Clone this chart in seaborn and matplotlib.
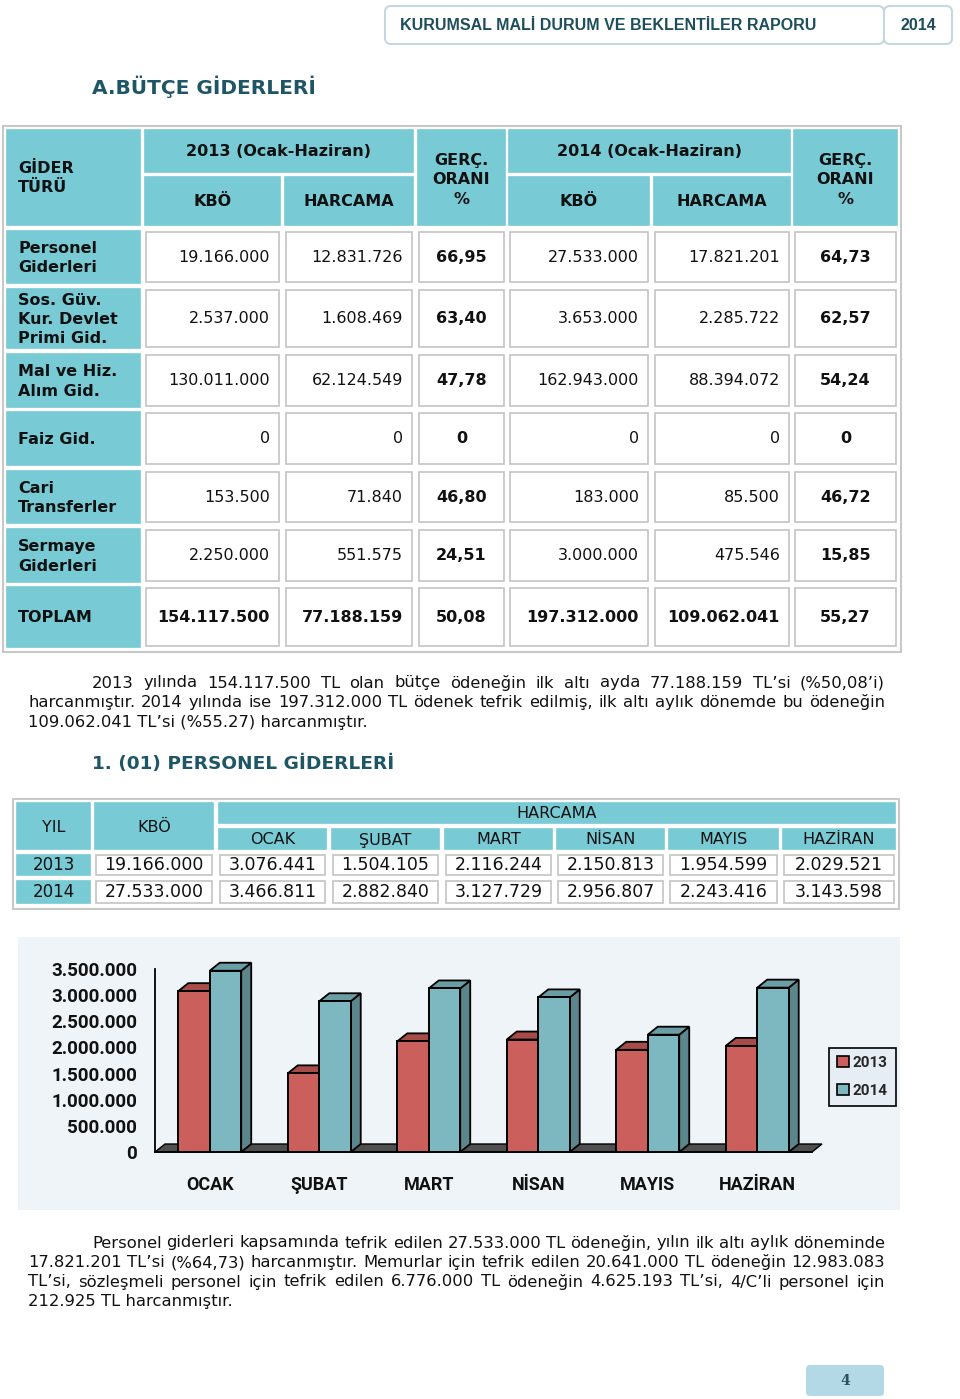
import numpy as np
import pandas as pd
import matplotlib
matplotlib.use('Agg')
import matplotlib.pyplot as plt
from matplotlib.patches import Rectangle, FancyBboxPatch, Polygon
import seaborn as sns

# --- Tablo 1: bütçe giderleri (Ocak-Haziran) ---
gider_turu = ["Personel\nGiderleri", "Sos. Güv.\nKur. Devlet\nPrimi Gid.", "Mal ve Hiz.\nAlım Gid.",
              "Faiz Gid.", "Cari\nTransferler", "Sermaye\nGiderleri", "TOPLAM"]
kbo_2013 = [19166000, 2537000, 130011000, 0, 153500, 2250000, 154117500]
harcama_2013 = [12831726, 1608469, 62124549, 0, 71840, 551575, 77188159]
oran_2013 = [66.95, 63.40, 47.78, 0, 46.80, 24.51, 50.08]
kbo_2014 = [27533000, 3653000, 162943000, 0, 183000, 3000000, 197312000]
harcama_2014 = [17821201, 2285722, 88394072, 0, 85500, 475546, 109062041]
oran_2014 = [64.73, 62.57, 54.24, 0, 46.72, 15.85, 55.27]

# --- Tablo 2 ve grafik: personel giderleri aylık harcama ---
aylar = ["OCAK", "ŞUBAT", "MART", "NİSAN", "MAYIS", "HAZİRAN"]
yillar = ["2013", "2014"]
kbo_personel = [19166000, 27533000]
aylik_2013 = [3076441, 1504105, 2116244, 2150813, 1954599, 2029521]
aylik_2014 = [3466811, 2882840, 3127729, 2956807, 2243416, 3143598]
y_ticks = [0, 500000, 1000000, 1500000, 2000000, 2500000, 3000000, 3500000]

paragraf_1 = [
    "2013 yılında 154.117.500 TL olan bütçe ödeneğin ilk altı ayda 77.188.159 TL’si (%50,08’i)",
    "harcanmıştır. 2014 yılında ise 197.312.000 TL ödenek tefrik edilmiş, ilk altı aylık dönemde bu ödeneğin",
    "109.062.041 TL’si (%55.27) harcanmıştır.",
]
paragraf_2 = [
    "Personel giderleri kapsamında tefrik edilen 27.533.000 TL ödeneğin, yılın ilk altı aylık döneminde",
    "17.821.201 TL’si (%64,73) harcanmıştır. Memurlar için tefrik edilen 20.641.000 TL ödeneğin 12.983.083",
    "TL’si, sözleşmeli personel için tefrik edilen 6.776.000 TL ödeneğin 4.625.193 TL’si, 4/C’li personel için",
    "212.925 TL harcanmıştır.",
]

CYAN = '#78cad5'
GRID = '#c4c4c4'
TEAL = '#1f5666'
INK = '#111111'
CHART_FONT = ['Roboto', 'DejaVu Sans']
W, H = 960, 1399


def tr(n):
    return f"{n:,}".replace(",", ".")


def oran(v):
    return f"{v:.2f}".replace(".", ",") if v else "0"


def cell(ax, x0, y0, x1, y1, fill=CYAN, edge=None):
    ax.add_patch(Rectangle((x0, y0), x1 - x0, y1 - y0, facecolor=fill,
                           edgecolor=edge if edge else fill, lw=1.2, zorder=1))


def write_lines(ax, lines, y0, step, renderer, first_x=92, x0=28, x1=885, size=11.8):
    # iki yana yaslı paragraf; son satır sola yaslı
    for i, line in enumerate(lines):
        y = y0 + i * step
        left = first_x if i == 0 else x0
        if i == len(lines) - 1:
            ax.text(left, y, line, fontsize=size, color=INK, va='center', ha='left')
            continue
        words = line.split()
        texts = [ax.text(0, y, w, fontsize=size, color=INK, va='center', ha='left') for w in words]
        widths = [t.get_window_extent(renderer).width for t in texts]
        gap = (x1 - left - sum(widths)) / (len(words) - 1)
        x = left
        for t, w in zip(texts, widths):
            t.set_x(x)
            x += w + gap


def draw_budget_table(ax):
    cols = [(7, 140), (145, 280), (285, 413), (418, 505), (509, 649), (654, 790), (794, 897)]
    rows = [(231, 283), (289, 348), (354, 407), (412, 465), (471, 523), (529, 582), (587, 647)]
    ax.add_patch(Rectangle((3, 126), 898, 526, facecolor='white', edgecolor='#c8c8c8', lw=1.5, zorder=0))
    hb = dict(fontsize=11.5, fontweight='bold', color=INK, va='center', linespacing=1.35)

    # başlık hücreleri
    cell(ax, 7, 130, 140, 225)
    ax.text(18, 178, "GİDER\nTÜRÜ", ha='left', **hb)
    for (ca, cb, cc), yil in zip([(1, 2, 3), (4, 5, 6)], ["2013", "2014"]):
        cell(ax, cols[ca][0], 130, cols[cb][1], 172)
        ax.text((cols[ca][0] + cols[cb][1]) / 2, 152, f"{yil} (Ocak-Haziran)", ha='center', **hb)
        for c, lab in [(ca, "KBÖ"), (cb, "HARCAMA")]:
            cell(ax, cols[c][0], 177, cols[c][1], 225)
            ax.text(sum(cols[c]) / 2, 202, lab, ha='center', **hb)
        cell(ax, cols[cc][0], 130, cols[cc][1], 225)
        ax.text(sum(cols[cc]) / 2, 180, "GERÇ.\nORANI\n%", ha='center', multialignment='center', **hb)

    # veri satırları
    for i, (r0, r1) in enumerate(rows):
        yc = (r0 + r1) / 2
        cell(ax, cols[0][0], r0, cols[0][1], r1)
        ax.text(18, yc + 1, gider_turu[i], ha='left', **hb)
        toplam = gider_turu[i] == "TOPLAM"
        vals = [tr(kbo_2013[i]), tr(harcama_2013[i]), oran(oran_2013[i]),
                tr(kbo_2014[i]), tr(harcama_2014[i]), oran(oran_2014[i])]
        for j, v in enumerate(vals, start=1):
            cx0, cx1 = cols[j]
            cell(ax, cx0 + 1, r0 + 1, cx1 - 1, r1 - 1, fill='white', edge=GRID)
            if j in (3, 6):
                ax.text((cx0 + cx1) / 2, yc, v, ha='center', va='center', fontsize=11.5,
                        fontweight='bold', color=INK)
            else:
                ax.text(cx1 - 10, yc, v, ha='right', va='center', fontsize=11.5,
                        fontweight='bold' if toplam else 'normal', color=INK)


def draw_personel_table(ax):
    cols = [(17, 90), (95, 213), (219, 326), (332, 439), (445, 552), (557, 664), (669, 778), (783, 895)]
    rows = [(855, 875), (881, 903)]
    ax.add_patch(Rectangle((13, 799), 886, 110, facecolor='white', edgecolor='#c8c8c8', lw=1.5, zorder=0))
    hk = dict(fontsize=11.5, color=INK, va='center', ha='center')
    cell(ax, 17, 803, 90, 849)
    ax.text(53.5, 827, "YIL", **hk)
    cell(ax, 95, 803, 213, 849)
    ax.text(154, 827, "KBÖ", **hk)
    cell(ax, 219, 803, 895, 823)
    ax.text(557, 814, "HARCAMA", **hk)
    for c, ay in zip(cols[2:], aylar):
        cell(ax, c[0], 829, c[1], 849)
        ax.text(sum(c) / 2, 840, ay, **hk)
    aylik = [aylik_2013, aylik_2014]
    for i, (r0, r1) in enumerate(rows):
        yc = (r0 + r1) / 2
        cell(ax, cols[0][0], r0, cols[0][1], r1)
        ax.text(sum(cols[0]) / 2, yc, yillar[i], fontsize=12, color=INK, va='center', ha='center')
        vals = [tr(kbo_personel[i])] + [tr(v) for v in aylik[i]]
        for c, v in zip(cols[1:], vals):
            cell(ax, c[0] + 1, r0, c[1] - 1, r1, fill='white', edge=GRID)
            ax.text(sum(c) / 2, yc, v, fontsize=12.5, color=INK, va='center', ha='center')


def draw_chart(fig):
    df = pd.DataFrame({
        'ay': aylar * 2,
        'yil': [yillar[0]] * len(aylar) + [yillar[1]] * len(aylar),
        'harcama': aylik_2013 + aylik_2014,
    })
    palette = {'2013': '#cb5f5b', '2014': '#7db7bf'}
    shade = {'2013': ('#a84c49', '#8a3c39'), '2014': ('#6a9ea5', '#5a868c')}

    ax = fig.add_axes([155 / W, 1 - 1152 / H, (812 - 155) / W, (1152 - 969) / H])
    ax.set_facecolor('none')
    sns.barplot(data=df, x='ay', y='harcama', hue='yil', order=aylar, hue_order=yillar,
                palette=palette, saturation=1, width=0.575, edgecolor='black', linewidth=1.4,
                legend=False, ax=ax, zorder=3)
    ax.set_xlim(-0.5, len(aylar) - 0.5)
    ax.set_ylim(0, y_ticks[-1])

    # sahte 3B: her çubuğa üst ve yan yüz
    n = len(aylar)
    dx = 10 * n / ax.bbox.width
    dy = 8 * y_ticks[-1] / ax.bbox.height
    for k, p in enumerate(ax.patches[:]):
        yil = yillar[k // n]
        x, w, h = p.get_x(), p.get_width(), p.get_height()
        top = Polygon([(x, h), (x + w, h), (x + w + dx, h + dy), (x + dx, h + dy)],
                      closed=True, fc=shade[yil][0], ec='black', lw=1.3, zorder=2, clip_on=False)
        side = Polygon([(x + w, 0), (x + w + dx, dy), (x + w + dx, h + dy), (x + w, h)],
                       closed=True, fc=shade[yil][1], ec='black', lw=1.3, zorder=2, clip_on=False)
        ax.add_patch(side)
        ax.add_patch(top)
    floor = Polygon([(-0.5, 0), (n - 0.5, 0), (n - 0.5 + dx, dy), (-0.5 + dx, dy)],
                    closed=True, fc='#4f4f4f', ec='black', lw=1.0, zorder=1, clip_on=False)
    ax.add_patch(floor)

    sns.despine(ax=ax)
    for s in ('left', 'bottom'):
        ax.spines[s].set_linewidth(1.3)
        ax.spines[s].set_color('black')
        ax.spines[s].set_zorder(5)
    ax.set_xlabel('')
    ax.set_ylabel('')
    ax.set_yticks(y_ticks, [tr(v) for v in y_ticks])
    ax.set_xticks(range(n), aylar)
    ax.set_xticks(np.arange(-0.5, n), minor=True)
    ax.tick_params(axis='y', length=4, width=1.2, pad=9, labelsize=13.5, color='black')
    ax.tick_params(axis='x', which='major', length=0, pad=17.5, labelsize=13)
    ax.tick_params(axis='x', which='minor', length=5, width=1.2, color='black')
    for lab in ax.get_xticklabels() + ax.get_yticklabels():
        lab.set_family(CHART_FONT)
        lab.set_fontweight('bold')
        lab.set_color(INK)

    handles = [Rectangle((0, 0), 1, 1, fc=palette[y], ec='black', lw=1.2) for y in yillar]
    leg = fig.legend(handles, yillar, loc='center left', bbox_to_anchor=(829 / W, 1 - 1077 / H),
                     prop={'family': CHART_FONT, 'weight': 'bold', 'size': 11}, frameon=True,
                     fancybox=False, edgecolor='black', facecolor='#e6edf5', framealpha=1,
                     handlelength=0.75, handleheight=0.75, handletextpad=0.25, labelspacing=0.9,
                     borderpad=0.55, borderaxespad=0)
    leg.get_frame().set_linewidth(1.2)


if __name__ == "__main__":
    sns.set_style("white")
    plt.rcParams['font.family'] = ['DejaVu Sans']

    fig = plt.figure(figsize=(W / 100, H / 100), dpi=100)
    page = fig.add_axes([0, 0, 1, 1])
    page.set_xlim(0, W)
    page.set_ylim(H, 0)
    page.axis('off')
    renderer = fig.canvas.get_renderer()

    # sayfa başlığı
    page.add_patch(FancyBboxPatch((385, 6), 499, 38, boxstyle='round,pad=0,rounding_size=6',
                                  fc='white', ec='#c6d7df', lw=1.5))
    page.add_patch(FancyBboxPatch((884, 6), 68, 38, boxstyle='round,pad=0,rounding_size=6',
                                  fc='white', ec='#c6d7df', lw=1.5))
    page.text(400, 25, "KURUMSAL MALİ DURUM VE BEKLENTİLER RAPORU", family='Liberation Sans',
              fontweight='bold', fontsize=11.5, color='#1d4e5c', va='center', ha='left')
    page.text(918, 25, "2014", family='Liberation Sans', fontweight='bold', fontsize=11.5,
              color='#1d4e5c', va='center', ha='center')

    page.text(92, 87, "A.BÜTÇE GİDERLERİ", fontsize=14.5, fontweight='bold', color=TEAL, va='center')
    draw_budget_table(page)
    write_lines(page, paragraf_1, 683, 19.5, renderer)

    page.text(92, 764, "1. (01) PERSONEL GİDERLERİ", fontsize=13.3, fontweight='bold', color=TEAL,
              va='center')
    draw_personel_table(page)

    page.add_patch(Rectangle((18, 937), 882, 273, fc='#eef4f8', ec='none', zorder=0))
    draw_chart(fig)

    write_lines(page, paragraf_2, 1243, 19.5, renderer)

    # sayfa numarası
    page.add_patch(FancyBboxPatch((806, 1365), 78, 31, boxstyle='round,pad=0,rounding_size=4',
                                  fc='#b3d9e6', ec='none'))
    page.text(845, 1381, "4", family='DejaVu Serif', fontweight='bold', fontsize=10,
              color='#2b4f5e', va='center', ha='center')

    fig.savefig('out.png', dpi=100)
    plt.close(fig)
